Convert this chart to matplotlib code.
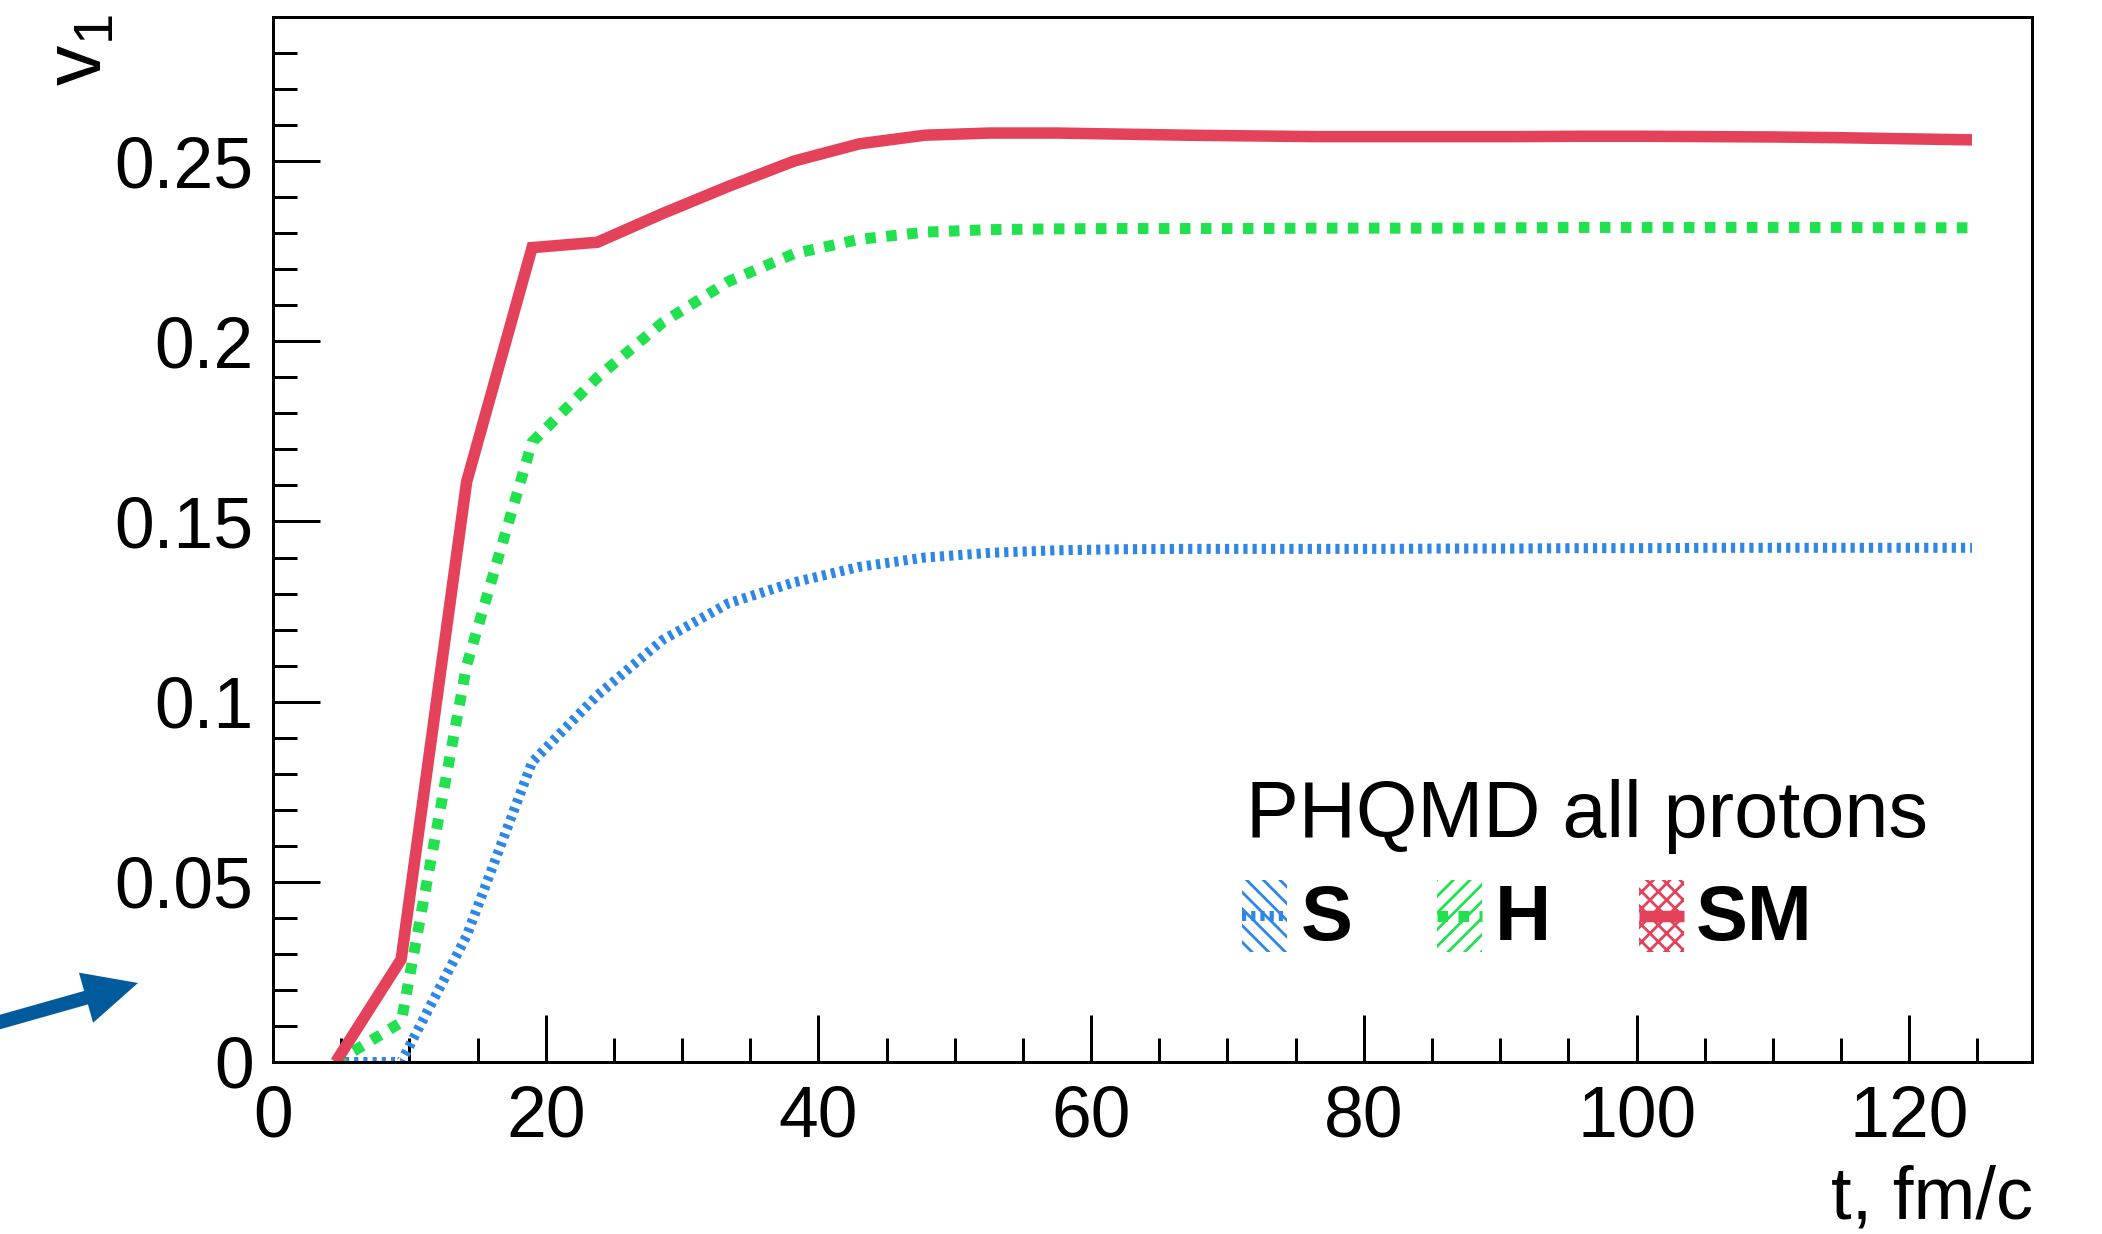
import matplotlib
matplotlib.use("Agg")
import matplotlib.pyplot as plt
from matplotlib.patches import Rectangle, FancyArrow
from matplotlib.lines import Line2D
from matplotlib.transforms import IdentityTransform
from matplotlib.ticker import MultipleLocator, FuncFormatter

# ---- data: v1 of all protons vs. time (PHQMD) ----
t = [4.6, 9.4, 14.2, 19.0, 23.8, 28.6, 33.4, 38.2, 43.0, 47.8, 52.6, 57.4, 62.2,
     67.0, 71.8, 76.6, 81.4, 86.2, 91.0, 95.8, 100.6, 105.4, 110.2, 115.0, 119.8, 124.6]
v1_S = [0.0, 0.0, 0.035, 0.0832, 0.1018, 0.1172, 0.1273, 0.1331, 0.1374, 0.1400,
        0.1413, 0.1420, 0.1423, 0.1424, 0.1424, 0.1424, 0.1424, 0.1425, 0.1425,
        0.1426, 0.1426, 0.1427, 0.1427, 0.1427, 0.1427, 0.1427]
v1_H = [0.0, 0.011, 0.110, 0.172, 0.190, 0.2053, 0.2166, 0.2243, 0.2283, 0.2303,
        0.2310, 0.2312, 0.2313, 0.2313, 0.2313, 0.2314, 0.2314, 0.2314, 0.2315,
        0.2316, 0.2316, 0.2316, 0.2316, 0.2316, 0.2315, 0.2315]
v1_SM = [0.0, 0.0285, 0.161, 0.226, 0.2275, 0.2355, 0.243, 0.2500, 0.2548, 0.2572,
         0.2578, 0.2578, 0.2575, 0.2572, 0.2570, 0.2568, 0.2568, 0.2568, 0.2568,
         0.2569, 0.2569, 0.2568, 0.2567, 0.2565, 0.2562, 0.2559]

labels = ["S", "H", "SM"]
header = "PHQMD all protons"
x_title = "t, fm/c"
y_title = "v$_1$"

C_S, C_H, C_SM = "#2e86e6", "#22e14f", "#e4425a"
C_ARROW = "#005a9c"

plt.rcParams["font.family"] = ["Liberation Sans", "DejaVu Sans"]
plt.rcParams["mathtext.default"] = "regular"
plt.rcParams["lines.scale_dashes"] = False
plt.rcParams["hatch.linewidth"] = 2.0

W, H = 2102, 1234
DPI = 100
PX = 72.0 / DPI  # points per pixel

fig = plt.figure(figsize=(W / DPI, H / DPI), dpi=DPI)
ax = fig.add_axes([273 / W, 1 - 1062 / H, (2032 - 273) / W, (1062 - 17) / H])

# curves
style_S = dict(color=C_S, lw=10 * PX, dashes=(4.2 * PX, 5.0 * PX), dash_capstyle="butt")
style_H = dict(color=C_H, lw=11 * PX, dashes=(10.5 * PX, 10.5 * PX), dash_capstyle="butt")
style_SM = dict(color=C_SM, lw=11.5 * PX, solid_capstyle="butt", solid_joinstyle="miter")

ax.plot(t, v1_S, **style_S)
ax.plot(t, v1_H, **style_H)
ax.plot(t, v1_SM, **style_SM)

ax.set_xlim(0, 129)
ax.set_ylim(0, 0.29)

ax.xaxis.set_major_locator(MultipleLocator(20))
ax.xaxis.set_minor_locator(MultipleLocator(5))
ax.yaxis.set_major_locator(MultipleLocator(0.05))
ax.yaxis.set_minor_locator(MultipleLocator(0.01))
fmt = FuncFormatter(lambda v, p: "%g" % round(v, 4))
ax.xaxis.set_major_formatter(fmt)
ax.yaxis.set_major_formatter(fmt)

ax.tick_params(which="both", direction="in", top=False, right=False,
               width=3 * PX, color="black")
ax.tick_params(which="major", length=47 * PX)
ax.tick_params(which="minor", length=24 * PX)
ax.tick_params(axis="x", which="major", labelsize=51.5, pad=16)
ax.tick_params(axis="y", which="major", labelsize=51.5, pad=14)
for s in ax.spines.values():
    s.set_linewidth(3 * PX)

# axis titles
fig.text(2033 / W, 1 - 1218 / H, x_title, ha="right", va="baseline", fontsize=53.5)
fig.text(80 / W, 1 - 14 / H, y_title, ha="center", va="top", rotation=90, fontsize=58)

# legend
ident = IdentityTransform()


def yd(y):
    return H - y


fig.text(1246 / W, 1 - 837 / H, header, ha="left", va="baseline", fontsize=57)

boxes = [(1242, C_S, "\\\\"), (1437, C_H, "//"), (1639, C_SM, "xx")]
text_x = [1301, 1495, 1696]
styles = [style_S, style_H, style_SM]
for (bx, col, hatch), tx, lab, st in zip(boxes, text_x, labels, styles):
    r = Rectangle((bx, yd(952)), 45, 72, facecolor="none", edgecolor=col,
                  hatch=hatch, lw=0, transform=ident)
    fig.add_artist(r)
    sample = Line2D([bx, bx + 45], [yd(916), yd(916)], transform=ident, **st)
    fig.add_artist(sample)
    fig.text(tx / W, 1 - 940 / H, lab, ha="left", va="baseline",
             fontsize=56, fontweight="bold")

# pointer arrow at the left margin
x0, y0 = -30, yd(1030.5)
x1, y1 = 138, yd(983)
arrow = FancyArrow(x0, y0, x1 - x0, y1 - y0, width=14, head_width=52,
                   head_length=54, length_includes_head=True,
                   color=C_ARROW, lw=0, transform=ident)
fig.add_artist(arrow)

fig.savefig("out.png", dpi=DPI)
